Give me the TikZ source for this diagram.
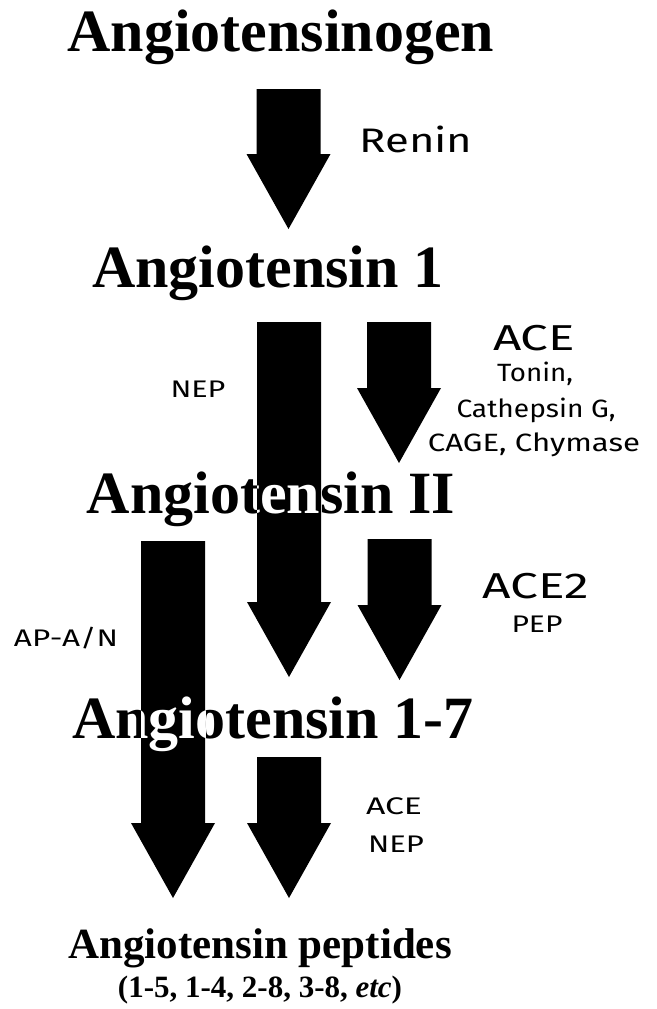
\documentclass[tikz,border=0pt]{standalone}
\usepackage{fontspec}
\setmainfont{Liberation Serif}
\newfontfamily\handfont{Fira Sans}
\newcommand\blockarrow[4]{(#1-32,#2) -- (#1+32,#2) -- (#1+32,#3) -- (#1+42,#3) -- (#1,#4) -- (#1-42,#3) -- (#1-32,#3) -- cycle}
\newcommand\handlab[3]{\resizebox{#1pt}{\height}{\fontsize{#2}{#2}\selectfont #3}}
\begin{document}
\begin{tikzpicture}[x=1pt,y=-1pt,
  title/.style={font=\fontsize{60}{60}\selectfont\bfseries, inner sep=0pt, anchor=base},
  lab/.style={font=\handfont, inner sep=0pt, anchor=base},
  barrowfill/.style={fill=black}]
\useasboundingbox (0,0) rectangle (656,1009);
% block arrows
\fill[barrowfill] \blockarrow{288.5}{89}{154}{229};
\fill[barrowfill] \blockarrow{289}{322}{602}{677};
\fill[barrowfill] \blockarrow{399}{322}{388}{463};
\fill[barrowfill] \blockarrow{399.5}{539}{605}{680};
\fill[barrowfill] \blockarrow{173}{541}{823}{898};
\fill[barrowfill] \blockarrow{289}{757}{823}{898};
% titles
\node[title] (n0) at (281,51) {Angiotensinogen};
\node[title] (n1) at (268,287) {Angiotensin 1};
\node[title] (n2) at (271,513) {Angiotensin II};
\node[title] (n3) at (273,738) {Angiotensin 1-7};
\node[title,font=\fontsize{43}{43}\selectfont\bfseries] (n4) at (260,958) {Angiotensin peptides};
\node[title,font=\fontsize{31}{31}\selectfont\bfseries] (n5) at (260,997) {(1-5, 1-4, 2-8, 3-8, \textit{etc})};
% white text where titles cross the arrows
\begin{scope}
\clip \blockarrow{288.5}{89}{154}{229} \blockarrow{289}{322}{602}{677} \blockarrow{399}{322}{388}{463} \blockarrow{399.5}{539}{605}{680} \blockarrow{173}{541}{823}{898} \blockarrow{289}{757}{823}{898};
\node[title,white] (n2w) at (271,513) {Angiotensin II};
\node[title,white] (n3w) at (273,738) {Angiotensin 1-7};
\end{scope}
% enzyme labels
\node[lab] (renin) at (416,152) {\handlab{113}{34}{Renin}};
\node[lab] (ace1) at (534,350) {\handlab{82}{36}{ACE}};
\node[lab] (tonin) at (535,381) {\handlab{76}{25}{Tonin,}};
\node[lab] (cath) at (536,417) {\handlab{159}{25}{Cathepsin G,}};
\node[lab] (cage) at (534,451) {\handlab{212}{25}{CAGE, Chymase}};
\node[lab] (nep1) at (198,397) {\handlab{55}{24}{NEP}};
\node[lab] (ace2) at (536,598) {\handlab{107}{36}{ACE2}};
\node[lab] (pep) at (537,632) {\handlab{51}{24}{PEP}};
\node[lab] (apan) at (66,646) {\handlab{104}{24}{AP-A/N}};
\node[lab] (ace3) at (394,814) {\handlab{56}{24}{ACE}};
\node[lab] (nep2) at (396,852) {\handlab{56}{24}{NEP}};
\end{tikzpicture}
\end{document}
